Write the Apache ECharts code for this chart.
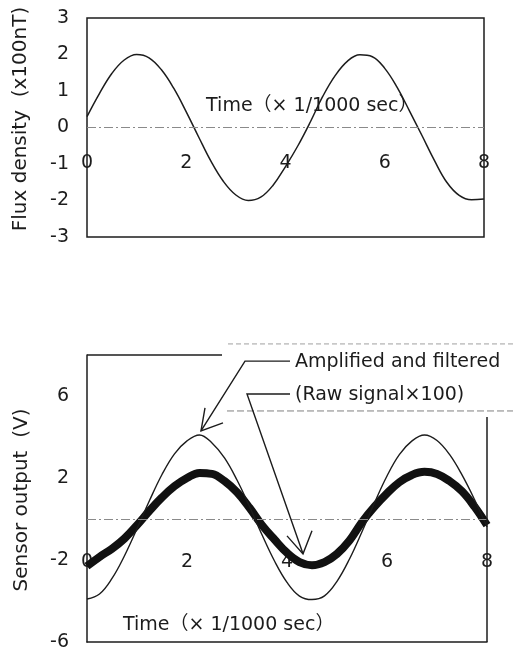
<!DOCTYPE html>
<html>
<head>
<meta charset="utf-8">
<script src="https://cdn.jsdelivr.net/npm/echarts@6/dist/echarts.min.js"></script>
<style>
html,body{margin:0;padding:0;background:#fff;}
#chart{width:513px;height:660px;}
</style>
</head>
<body>
<div id="chart"></div>
<script>
// ---- data ----
const timeMs = [0,0.25,0.5,0.75,1,1.25,1.5,1.75,2,2.25,2.5,2.75,3,3.25,3.5,3.75,4,4.25,4.5,4.75,5,5.25,5.5,5.75,6,6.25,6.5,6.75,7,7.25,7.5,7.75,8];
const fluxDensity = [0.30,0.93,1.48,1.85,2.00,1.91,1.58,1.07,0.43,-0.26,-0.93,-1.48,-1.85,-2.00,-1.91,-1.58,-1.07,-0.50,0.15,0.85,1.42,1.82,1.99,1.94,1.62,1.10,0.45,-0.22,-0.90,-1.50,-1.86,-1.98,-1.96];
const amplifiedFiltered = [-3.90,-3.66,-2.90,-1.79,-0.47,0.90,2.17,3.18,3.81,4.10,3.71,2.98,1.90,0.61,-0.77,-2.05,-3.09,-3.76,-3.93,-3.75,-3.04,-1.95,-0.62,0.79,2.10,3.15,3.81,4.10,3.83,3.15,2.15,0.95,-0.39];
const rawSignalX100 = [-2.30,-1.85,-1.45,-0.95,-0.30,0.40,1.05,1.60,2.00,2.25,2.20,1.85,1.30,0.55,-0.30,-1.00,-1.65,-2.10,-2.25,-2.10,-1.70,-1.05,-0.15,0.60,1.25,1.80,2.15,2.30,2.20,1.85,1.35,0.60,-0.30];

const timeTicks = [0,2,4,6,8];
const fluxTicks = [-3,-2,-1,0,1,2,3];
const sensorTicks = [-6,-2,2,6];

const timeTitle = 'Time（× 1/1000 sec）';
const fluxTitle = 'Flux density  (x100nT)';
const sensorTitle = 'Sensor output  (V)';
const ampLabel = 'Amplified and filtered';
const rawLabel = '(Raw signal×100)';

// ---- styling ----
const FONT = '"DejaVu Sans", "Noto Sans CJK JP", sans-serif';
const INK = '#1c1c1c';
const FS = 19;
const FS_TITLE = 20;

const chart = echarts.init(document.getElementById('chart'), null, {renderer: 'canvas'});

const pairs = (xs, ys) => xs.map((x, i) => [x, ys[i]]);

const zeroLine = {
  silent: true,
  symbol: ['none', 'none'],
  label: {show: false},
  lineStyle: {color: '#8a8a8a', width: 1, type: [9, 3, 2, 3]},
  data: [{yAxis: 0}]
};

const labelStyle = {fontSize: FS, fontFamily: FONT, color: INK};

const option = {
  backgroundColor: '#fff',
  animation: false,
  grid: [
    {left: 87, top: 18, width: 397, height: 219, show: true, borderColor: INK, borderWidth: 1.5, backgroundColor: 'transparent', outerBoundsMode: 'none'},
    {left: 87, top: 355, width: 400, height: 287, show: false, outerBoundsMode: 'none'}
  ],
  xAxis: [
    {gridIndex: 0, type: 'value', min: timeTicks[0], max: timeTicks[timeTicks.length - 1], interval: 2,
     axisLine: {show: false, onZero: false}, axisTick: {show: false}, splitLine: {show: false},
     axisLabel: Object.assign({margin: -74, verticalAlign: 'middle'}, labelStyle)},
    {gridIndex: 1, type: 'value', min: timeTicks[0], max: timeTicks[timeTicks.length - 1], interval: 2,
     axisLine: {show: true, onZero: false, lineStyle: {color: INK, width: 1.5}}, axisTick: {show: false}, splitLine: {show: false},
     axisLabel: Object.assign({margin: -80, verticalAlign: 'middle'}, labelStyle)}
  ],
  yAxis: [
    {gridIndex: 0, type: 'value', min: fluxTicks[0], max: fluxTicks[fluxTicks.length - 1], interval: 1,
     axisLine: {show: false}, axisTick: {show: false}, splitLine: {show: false},
     axisLabel: Object.assign({margin: 18}, labelStyle)},
    {gridIndex: 1, type: 'value', min: sensorTicks[0], max: 8, interval: 4,
     axisLine: {show: true, onZero: false, lineStyle: {color: INK, width: 1.5}}, axisTick: {show: false}, splitLine: {show: false},
     axisLabel: Object.assign({margin: 18, showMaxLabel: false}, labelStyle)}
  ],
  series: [
    {name: 'Flux density', type: 'line', xAxisIndex: 0, yAxisIndex: 0, smooth: 0.4, showSymbol: false,
     data: pairs(timeMs, fluxDensity), lineStyle: {color: INK, width: 1.5}, markLine: zeroLine, z: 3},
    {name: 'Raw signal ×100', type: 'line', xAxisIndex: 1, yAxisIndex: 1, smooth: 0.4, showSymbol: false,
     data: pairs(timeMs, rawSignalX100), lineStyle: {color: '#111', width: 8}, markLine: zeroLine, z: 3},
    {name: 'Amplified and filtered', type: 'line', xAxisIndex: 1, yAxisIndex: 1, smooth: 0.4, showSymbol: false,
     data: pairs(timeMs, amplifiedFiltered), lineStyle: {color: INK, width: 1.4}, z: 4}
  ]
};

chart.setOption(option);

// ---- annotations positioned from data coordinates ----
const p0 = (x, y) => chart.convertToPixel({xAxisIndex: 0, yAxisIndex: 0}, [x, y]);
const p1 = (x, y) => chart.convertToPixel({xAxisIndex: 1, yAxisIndex: 1}, [x, y]);

const text = (pt, str, extra) => Object.assign({
  type: 'text', x: pt[0], y: pt[1], z: 10,
  style: {text: str, fontSize: FS, fontFamily: FONT, fill: INK, align: 'left', verticalAlign: 'middle'}
}, extra || {});
const line = (a, b, stroke, width, dash) => ({
  type: 'line', z: 10, shape: {x1: a[0], y1: a[1], x2: b[0], y2: b[1]},
  style: {stroke: stroke || INK, lineWidth: width || 1.4, lineDash: dash || null}
});
const poly = (pts) => ({type: 'polyline', z: 10, shape: {points: pts}, style: {stroke: INK, lineWidth: 1.4, fill: null}});

const ampTip = p1(2.28, 4.3);
const rawTip = p1(4.32, -1.7);
const ampCorner = p1(3.16, 7.7);
const rawCorner = p1(3.20, 6.1);

const graphics = [
  text(p0(2.4, 0.6), timeTitle),
  text(p1(0.72, -5.17), timeTitle),
  {type: 'text', x: 21, y: 119, rotation: Math.PI / 2, z: 10,
   style: {text: fluxTitle, fontSize: FS_TITLE, fontFamily: FONT, fill: INK, align: 'center', verticalAlign: 'middle'}},
  {type: 'text', x: 22, y: 500, rotation: Math.PI / 2, z: 10,
   style: {text: sensorTitle, fontSize: FS_TITLE, fontFamily: FONT, fill: INK, align: 'center', verticalAlign: 'middle'}},
  // partial frame of lower panel
  line(p1(0, 8), p1(2.7, 8), INK, 1.5),
  line(p1(8, 4.98), p1(8, -6), INK, 1.5),
  // faint dashed rules
  line(p1(2.82, 8.54), [513, p1(0, 8.54)[1]], '#a0a0a0', 1, [5, 3]),
  line(p1(2.8, 5.27), [513, p1(0, 5.27)[1]], '#808080', 1, [7, 3]),
  // leader lines
  poly([p1(4.06, 7.7), ampCorner, ampTip]),
  poly([[ampTip[0] + 4, ampTip[1] - 23], ampTip, [ampTip[0] + 22, ampTip[1] - 8]]),
  poly([p1(4.06, 6.1), rawCorner, rawTip]),
  poly([[rawTip[0] - 16, rawTip[1] - 18], rawTip, [rawTip[0] + 9, rawTip[1] - 23]]),
  text(p1(4.16, 7.66), ampLabel),
  text(p1(4.16, 6.05), rawLabel)
];

chart.setOption({graphic: graphics});
</script>
</body>
</html>
